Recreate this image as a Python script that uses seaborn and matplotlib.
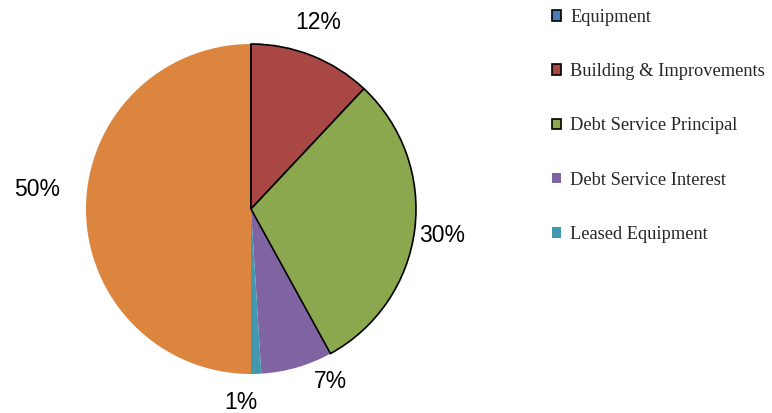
import matplotlib
matplotlib.use("Agg")
import matplotlib.pyplot as plt
from matplotlib.patches import Patch
import numpy as np
import seaborn as sns

# Budget shares (percent), drawn clockwise from 12 o'clock
categories = ["Equipment", "Building & Improvements", "Debt Service Principal",
              "Debt Service Interest", "Leased Equipment", "Other"]
shares = [0, 12, 30, 7, 1, 50]
colors = ["#4A7EBB", "#A94745", "#8BA84F", "#8064A2", "#4198AF", "#DC853E"]
outlined = [True, True, True, False, False, False]
legend_items = categories[:5]

# label placement: radial distance and angular nudge (degrees) per slice
label_dist = [1.24, 1.21, 1.17, 1.14, 1.16, 1.30]
label_nudge = [0, 2, 0, 8.7, -4.8, -5.7]

sns.set_theme(style="white")
plt.rcParams["font.family"] = ["Liberation Sans", "DejaVu Sans"]

fig = plt.figure(figsize=(7.72, 4.13), dpi=100)
ax = fig.add_axes([86 / 772, 39 / 413, 330 / 772, 330 / 413])

wedges, _ = ax.pie(shares, colors=colors, startangle=90, counterclock=False,
                   wedgeprops=dict(linewidth=0))
for w, edge in zip(wedges, outlined):
    w.set_clip_on(False)
    if edge:
        w.set_edgecolor("black")
        w.set_linewidth(1.2)
        w.set_zorder(3)
ax.set_xlim(-1.0, 1.0)
ax.set_ylim(-1.0, 1.0)
ax.set_aspect("equal")
ax.axis("off")

total = sum(shares)
start = 90.0
for v, d, nudge in zip(shares, label_dist, label_nudge):
    span = 360.0 * v / total
    mid = np.deg2rad(start - span / 2 + nudge)
    start -= span
    if v == 0:
        continue
    ax.text(d * np.cos(mid), d * np.sin(mid) - 0.012, f"{v}%", ha="center",
            va="center", fontsize=16.5, color="black", clip_on=False)

handles = []
for name, c, edge in zip(legend_items, colors, outlined):
    handles.append(Patch(facecolor=c, edgecolor="black" if edge else c,
                         linewidth=1.2 if edge else 0))
leg = fig.legend(handles=handles, labels=legend_items, loc="upper left",
                 bbox_to_anchor=(552 / 772, 1 - 9 / 413), frameon=False,
                 prop={"family": "Liberation Serif", "size": 13.2},
                 labelspacing=2.03, handlelength=0.5, handleheight=0.5,
                 handletextpad=0.5, borderaxespad=0, borderpad=0)

fig.savefig("out.png", dpi=100, facecolor="white")
